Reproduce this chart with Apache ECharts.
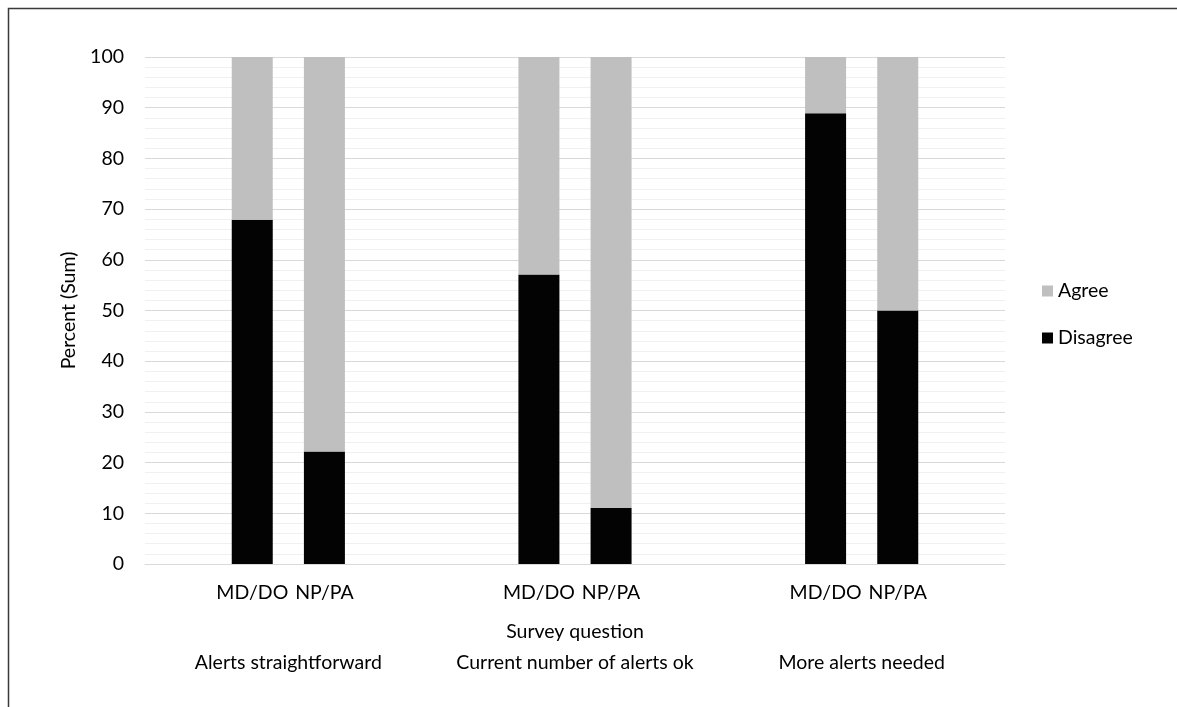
<!DOCTYPE html>
<html>
<head>
<meta charset="utf-8">
<script src="https://cdn.jsdelivr.net/npm/echarts@6/dist/echarts.min.js"></script>
<style>
  html, body { margin: 0; padding: 0; background: #fff; }
  #chart { width: 1177px; height: 707px; }
</style>
</head>
<body>
<div id="chart"></div>
<script>
// Survey questions (outer category level)
const questions = ['Alerts straightforward', 'Current number of alerts ok', 'More alerts needed'];
// Respondent roles (inner category level)
const roles = ['MD/DO', 'NP/PA'];
// Percent of respondents per question, by role
const disagreeMD = [67.9, 57.1, 88.9];
const agreeMD = [32.1, 42.9, 11.1];
const disagreeNP = [22.2, 11.1, 50.0];
const agreeNP = [77.8, 88.9, 50.0];
// Value axis ticks
const yTicks = { min: 0, max: 100, interval: 10 };

const FONT = 'Lato, "Open Sans", sans-serif';
const FS = 19.5;
const TEXT = '#000000';
const BLACK = '#030303';
const GREY = '#bfbfbf';

function roleLabel(text) {
  return {
    show: true,
    position: 'bottom',
    distance: 19,
    formatter: text,
    color: TEXT,
    fontFamily: FONT,
    fontSize: FS
  };
}

const chart = echarts.init(document.getElementById('chart'), null, { renderer: 'canvas' });

chart.setOption({
  backgroundColor: '#ffffff',
  animation: false,
  textStyle: { fontFamily: FONT, color: TEXT },
  graphic: [{
    type: 'polyline',
    shape: { points: [[8.5, 720], [8.5, 8.5], [1190, 8.5]] },
    style: { stroke: '#3a3a3a', lineWidth: 1.5, fill: null },
    silent: true
  }],
  grid: { left: 145, right: 172, top: 57, bottom: 143 },
  legend: {
    orient: 'vertical',
    left: 1037,
    top: 276,
    itemWidth: 11,
    itemHeight: 11,
    itemGap: 27,
    icon: 'rect',
    data: ['Agree', 'Disagree'],
    textStyle: { fontFamily: FONT, fontSize: FS, color: TEXT }
  },
  xAxis: {
    type: 'category',
    data: questions,
    name: 'Survey question',
    nameLocation: 'middle',
    nameGap: 58,
    nameMoveOverlap: false,
    nameTextStyle: { fontFamily: FONT, fontSize: FS, color: TEXT },
    axisLine: { show: true, lineStyle: { color: '#d9d9d9', width: 1 } },
    axisTick: { show: false },
    axisLabel: { margin: 89, fontFamily: FONT, fontSize: FS, color: TEXT, interval: 0 },
    splitLine: { show: false }
  },
  yAxis: {
    type: 'value',
    min: yTicks.min,
    max: yTicks.max,
    interval: yTicks.interval,
    name: 'Percent (Sum)',
    nameLocation: 'middle',
    nameGap: 66,
    nameRotate: 90,
    nameMoveOverlap: false,
    nameTextStyle: { fontFamily: FONT, fontSize: FS, color: TEXT },
    axisLine: { show: false },
    axisTick: { show: false },
    axisLabel: { margin: 21, fontFamily: FONT, fontSize: FS, color: TEXT },
    splitLine: { show: true, lineStyle: { color: '#d9d9d9', width: 1 } },
    minorTick: { show: false, splitNumber: 5 },
    minorSplitLine: { show: true, lineStyle: { color: '#f0f0f0', width: 1 } }
  },
  series: [
    {
      name: 'Disagree', type: 'bar', stack: 'md', data: disagreeMD,
      barWidth: 41, barGap: '76%',
      itemStyle: { color: BLACK },
      label: roleLabel(roles[0])
    },
    {
      name: 'Agree', type: 'bar', stack: 'md', data: agreeMD,
      barWidth: 41, barGap: '76%',
      itemStyle: { color: GREY }
    },
    {
      name: 'Disagree', type: 'bar', stack: 'np', data: disagreeNP,
      barWidth: 41, barGap: '76%',
      itemStyle: { color: BLACK },
      label: roleLabel(roles[1])
    },
    {
      name: 'Agree', type: 'bar', stack: 'np', data: agreeNP,
      barWidth: 41, barGap: '76%',
      itemStyle: { color: GREY }
    }
  ]
});
</script>
</body>
</html>
